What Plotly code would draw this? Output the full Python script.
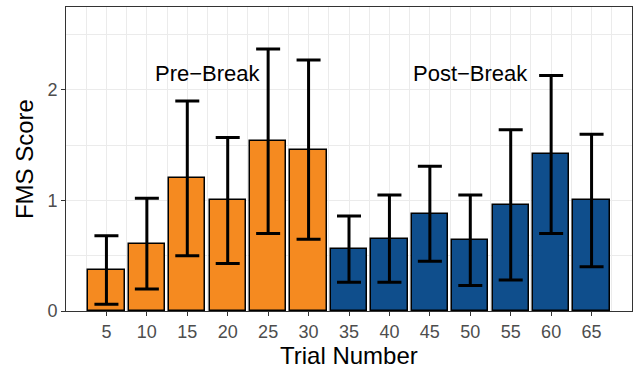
import plotly.graph_objects as go

trials = [5, 10, 15, 20, 25, 30, 35, 40, 45, 50, 55, 60, 65]
fms_mean = [0.37, 0.61, 1.20, 1.00, 1.54, 1.46, 0.56, 0.65, 0.88, 0.64, 0.96, 1.42, 1.00]
fms_upper = [0.68, 1.02, 1.90, 1.57, 2.37, 2.27, 0.86, 1.05, 1.31, 1.05, 1.64, 2.13, 1.60]
fms_lower = [0.06, 0.20, 0.50, 0.43, 0.70, 0.65, 0.26, 0.26, 0.45, 0.23, 0.28, 0.70, 0.40]
phase = ["Pre"] * 6 + ["Post"] * 7
phase_colors = {"Pre": "#F58A20", "Post": "#0F4E8C"}
x_ticks = [5, 10, 15, 20, 25, 30, 35, 40, 45, 50, 55, 60, 65]
y_ticks = [0, 1, 2]
labels = [("Pre\u2212Break", 17.5, 2.15), ("Post\u2212Break", 50, 2.15)]
x_title = "Trial Number"
y_title = "FMS Score"

FONT = "Liberation Sans, Arial, Helvetica, sans-serif"

fig = go.Figure()
fig.add_trace(go.Bar(
    x=trials,
    y=fms_mean,
    width=4.5,
    marker=dict(color=[phase_colors[p] for p in phase],
                line=dict(color="black", width=1.5)),
    error_y=dict(type="data", symmetric=False,
                 array=[u - m for u, m in zip(fms_upper, fms_mean)],
                 arrayminus=[m - l for m, l in zip(fms_mean, fms_lower)],
                 color="black", thickness=3, width=12),
    showlegend=False,
))

for text, lx, ly in labels:
    fig.add_annotation(x=lx, y=ly, text=text, showarrow=False,
                       font=dict(family=FONT, size=22, color="black"),
                       xanchor="center", yanchor="middle")

# axis titles
fig.add_annotation(xref="paper", yref="paper", x=0.5, y=-0.145, text=x_title,
                   showarrow=False, xanchor="center", yanchor="middle",
                   font=dict(family=FONT, size=24, color="black"))
fig.add_annotation(xref="paper", yref="paper", x=-0.074, y=0.5, text=y_title,
                   showarrow=False, xanchor="center", yanchor="middle", textangle=-90,
                   font=dict(family=FONT, size=24, color="black"))

axis_common = dict(
    showline=True, mirror=True, linecolor="#333333", linewidth=1,
    ticks="outside", ticklen=4, tickcolor="#333333", tickwidth=1,
    gridcolor="#EBEBEB", gridwidth=1.4, zeroline=False, automargin=False,
    tickfont=dict(family=FONT, size=18, color="#4D4D4D"),
)

fig.update_layout(
    width=636, height=370,
    margin=dict(l=66, r=4, t=7, b=59),
    paper_bgcolor="white", plot_bgcolor="white",
    font=dict(family=FONT),
    bargap=0,
    xaxis=dict(range=[0, 70], tickvals=x_ticks,
               minor=dict(tick0=2.5, dtick=5, showgrid=True, gridcolor="#EBEBEB", gridwidth=0.8, ticks=""),
               **axis_common),
    yaxis=dict(range=[0, 2.75], tickvals=y_ticks,
               minor=dict(tick0=0.5, dtick=1, showgrid=True, gridcolor="#EBEBEB", gridwidth=0.8, ticks=""),
               **axis_common),
)

fig.write_html("out.html", config={"displayModeBar": False},
               post_script="document.body.style.margin='0';document.body.style.overflow='hidden';")
